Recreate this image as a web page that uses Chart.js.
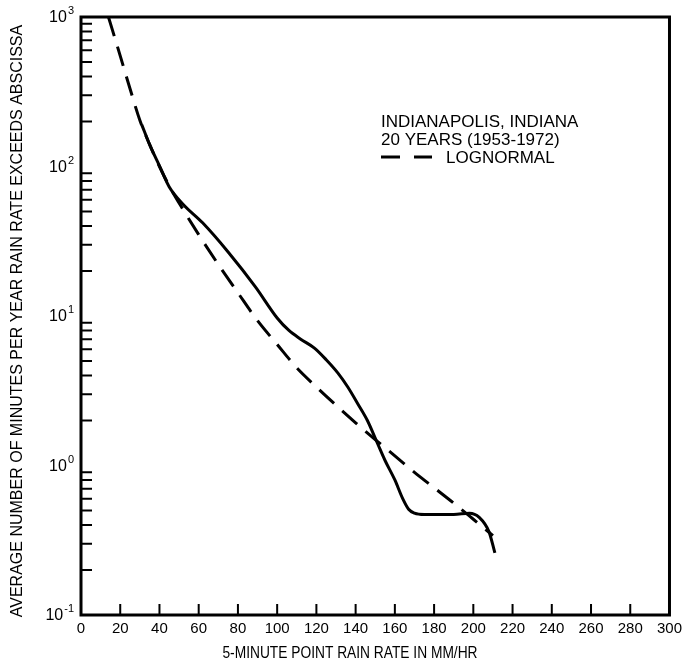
<!DOCTYPE html>
<html>
<head>
<meta charset="utf-8">
<script src="https://cdn.jsdelivr.net/npm/chart.js@4"></script>
<style>
  html, body { margin: 0; padding: 0; background: #fff; }
  #wrap { width: 687px; height: 662px; }
</style>
</head>
<body>
<div id="wrap"><canvas id="rain"></canvas></div>
<script>
// observed curve (solid)
const obsRate = [31, 35, 40, 45, 52, 62, 75, 89, 100, 106, 112, 119, 125, 131, 136, 141, 146, 151, 155, 160, 164, 167, 170, 175, 190, 198, 203, 208, 211]
const obsMinutes = [190, 140, 101, 73, 56, 42, 26.8, 15.6, 9.7, 8, 7, 6.1, 5.1, 4.15, 3.35, 2.6, 2, 1.42, 1.08, 0.8, 0.6, 0.51, 0.48, 0.47, 0.47, 0.48, 0.45, 0.36, 0.26]

// lognormal fit (dashed)
const lognRate = [14, 20, 25, 30, 35, 40, 45, 50, 60, 70, 80, 90, 100, 110, 120, 130, 140, 150, 160, 170, 180, 190, 200, 210]
const lognMinutes = [1000, 550, 331, 204, 140, 100, 74, 57, 35, 22.1, 14.3, 9.3, 6.45, 4.5, 3.35, 2.53, 1.93, 1.49, 1.16, 0.9, 0.71, 0.56, 0.437, 0.34]

const xTicks = [0, 20, 40, 60, 80, 100, 120, 140, 160, 180, 200, 220, 240, 260, 280, 300]
const yTicks = [0.1, 1, 10, 100, 1000]
const yExponents = ["-1", "0", "1", "2", "3"]
const yMinor = [2, 3, 4, 5, 6, 7, 8, 9]

const xTitle = "5-MINUTE POINT RAIN RATE IN MM/HR"
const yTitle = "AVERAGE NUMBER OF MINUTES PER YEAR RAIN RATE EXCEEDS ABSCISSA"
const legendLines = ["INDIANAPOLIS, INDIANA", "20 YEARS (1953-1972)"]
const legendDash = "LOGNORMAL"

const FONT = "'Liberation Sans', Arial, sans-serif"

const toPoints = (xs, ys) => xs.map((x, i) => ({ x: x, y: ys[i] }))

// box, inward ticks, power-of-ten labels, titles and legend text
const framePlugin = {
    id: "frame",
    afterDraw(chart) {
        const ctx = chart.ctx
        const a = chart.chartArea
        const xs = chart.scales.x
        const ys = chart.scales.y
        ctx.save()
        ctx.strokeStyle = "#000"
        ctx.lineWidth = 3
        ctx.strokeRect(a.left, a.top, a.right - a.left, a.bottom - a.top)

        ctx.lineWidth = 2
        ctx.beginPath()
        xTicks.slice(1, -1).forEach(v => {
            const px = xs.getPixelForValue(v)
            ctx.moveTo(px, a.bottom)
            ctx.lineTo(px, a.bottom - 11)
        })
        for (let d = 0.1; d < 1000; d *= 10) {
            yMinor.forEach(m => {
                const py = ys.getPixelForValue(m * d)
                ctx.moveTo(a.left, py)
                ctx.lineTo(a.left + 11, py)
            })
        }
        ctx.stroke()

        // y labels as 10 with a raised exponent
        ctx.fillStyle = "#000"
        ctx.textAlign = "right"
        ctx.textBaseline = "middle"
        yTicks.forEach((v, i) => {
            const py = ys.getPixelForValue(v)
            const right = a.left - 7
            ctx.font = "11px " + FONT
            const ew = ctx.measureText(yExponents[i]).width
            ctx.fillText(yExponents[i], right, py - 6)
            ctx.font = "16px " + FONT
            ctx.fillText("10", right - ew - 1, py + 1)
        })

        // axis titles (x one is a bit condensed, like the print)
        ctx.textAlign = "center"
        ctx.font = "16px " + FONT
        ctx.save()
        ctx.translate(350, 654)
        ctx.scale(0.86, 1)
        ctx.fillText(xTitle, 0, 0)
        ctx.restore()
        ctx.save()
        ctx.translate(18, 321)
        ctx.rotate(-Math.PI / 2)
        ctx.fillText(yTitle, 0, 0)
        ctx.restore()

        // legend
        ctx.font = "17px " + FONT
        ctx.textAlign = "left"
        ctx.fillText(legendLines[0], 381, 122)
        ctx.fillText(legendLines[1], 381, 140)
        ctx.fillText(legendDash, 446, 158)
        ctx.lineWidth = 3
        ctx.setLineDash([19, 14])
        ctx.beginPath()
        ctx.moveTo(381, 157)
        ctx.lineTo(432, 157)
        ctx.stroke()
        ctx.restore()
    }
}

const ctx = document.querySelector("#rain").getContext("2d")

new Chart(ctx, {
    type: "line",
    data: {
        datasets: [{
            label: "Observed",
            data: toPoints(obsRate, obsMinutes),
            borderColor: "#000",
            borderWidth: 3,
            pointRadius: 0,
            cubicInterpolationMode: "monotone",
            fill: false
        }, {
            label: "Lognormal",
            data: toPoints(lognRate, lognMinutes),
            borderColor: "#000",
            borderWidth: 3,
            borderDash: [20, 11],
            pointRadius: 0,
            cubicInterpolationMode: "monotone",
            fill: false
        }]
    },
    options: {
        responsive: true,
        maintainAspectRatio: false,
        animation: false,
        layout: { padding: { top: 17, right: 12, left: 0, bottom: 0 } },
        plugins: {
            legend: { display: false },
            tooltip: { enabled: false }
        },
        scales: {
            x: {
                type: "linear",
                min: 0,
                max: 300,
                grid: { display: false, drawTicks: false },
                border: { display: false },
                afterBuildTicks: (scale) => { scale.ticks = xTicks.map(v => ({ value: v })) },
                afterFit: (scale) => { scale.height = 47 },
                ticks: {
                    color: "#000",
                    font: { family: FONT, size: 15 },
                    padding: 5,
                    maxRotation: 0,
                    autoSkip: false
                }
            },
            y: {
                type: "logarithmic",
                min: 0.1,
                max: 1000,
                grid: { display: false, drawTicks: false },
                border: { display: false },
                afterBuildTicks: (scale) => { scale.ticks = yTicks.map(v => ({ value: v })) },
                afterFit: (scale) => { scale.width = 81 },
                ticks: { display: false }
            }
        }
    },
    plugins: [framePlugin]
})
</script>
</body>
</html>
